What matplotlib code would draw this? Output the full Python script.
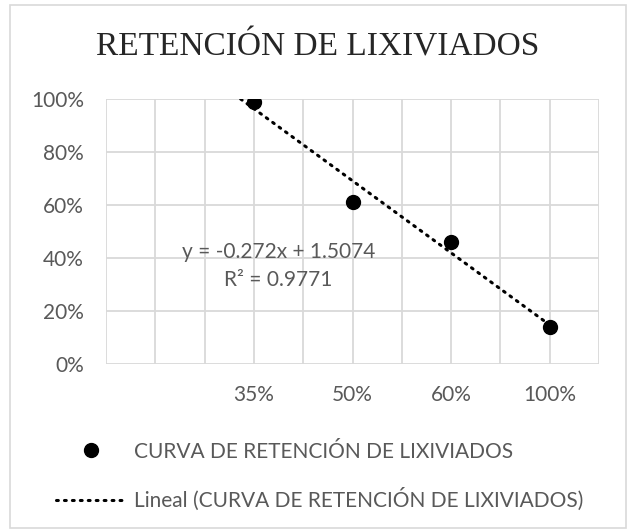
import numpy as np
import matplotlib
matplotlib.use('Agg')
import matplotlib.pyplot as plt
from matplotlib.patches import Rectangle
from matplotlib.ticker import FuncFormatter

# Data
categories = ["", "35%", "50%", "60%", "100%"]
retencion = [0.99, 0.612, 0.459, 0.141]   # values for 35%, 50%, 60%, 100%
x_pos = [2, 3, 4, 5]

# Excel trendline as printed on the chart
slope = -0.272
intercept = 1.5074
r2 = 0.9771

series_name = "CURVA DE RETENCIÓN DE LIXIVIADOS"
title = "RETENCIÓN DE LIXIVIADOS"

sans = ["Lato", "DejaVu Sans"]
grey_text = "#595959"
grid_col = "#d9d9d9"
fs = 15

fig = plt.figure(figsize=(6.27, 5.31), dpi=100)
ax = fig.add_axes([106 / 627, 1 - 364 / 531, 493 / 627, 265 / 531])

# chart area border
fig.patches.append(Rectangle((10 / 627, 1 - 528 / 531), 616 / 627, 523 / 531,
                             transform=fig.transFigure, fill=False,
                             edgecolor="#d9d9d9", linewidth=1.2))

ax.set_xlim(0.5, 5.5)
ax.set_ylim(0, 1.0)

# gridlines (category borders and centres)
for gx in np.arange(0.5, 5.51, 0.5):
    ax.axvline(gx, color=grid_col, linewidth=1.3, zorder=0)
for gy in np.arange(0, 1.01, 0.2):
    ax.axhline(gy, color=grid_col, linewidth=1.3, zorder=0)

# trendline, clipped at the 100% ceiling like in Excel
x0 = (intercept - 1.0) / -slope
xt = np.array([x0, x_pos[-1]])
trend, = ax.plot(xt, slope * xt + intercept, color="black", linewidth=2.2,
                 linestyle=(0, (0.6, 2.0)), dash_capstyle="round", zorder=2,
                 label="Lineal (" + series_name + ")")

pts, = ax.plot(x_pos, retencion, linestyle="none", marker="o", markersize=10,
               color="black", zorder=3, label=series_name)

for s in ax.spines.values():
    s.set_visible(False)
ax.tick_params(length=0, colors=grey_text, labelsize=fs)
ax.tick_params(axis="y", pad=16)
ax.tick_params(axis="x", pad=15)
ax.set_xticks(range(1, 6))
ax.set_xticklabels(categories, fontfamily=sans)
ax.set_yticks(np.arange(0, 1.01, 0.2))
ax.yaxis.set_major_formatter(FuncFormatter(lambda v, p: f"{v * 100:.0f}%"))
for lab in ax.get_yticklabels():
    lab.set_fontfamily(sans)

ax.text(2.25, 0.37, f"y = {slope}x + {intercept}\nR² = {r2}", ha="center",
        va="center", fontsize=fs, color=grey_text, family=sans,
        linespacing=1.5)

fig.text(0.506, 1 - 47 / 531, title, ha="center", va="center",
         fontsize=24, family=["Liberation Serif"], color="#262626")

fig.legend(handles=[pts, trend], loc="upper left",
           bbox_to_anchor=(37 / 627, 1 - 423 / 531), frameon=False,
           handlelength=3.37, handletextpad=0.38, labelspacing=1.25,
           prop={"family": sans, "size": fs}, labelcolor=grey_text)

fig.savefig("out.png", dpi=100)
